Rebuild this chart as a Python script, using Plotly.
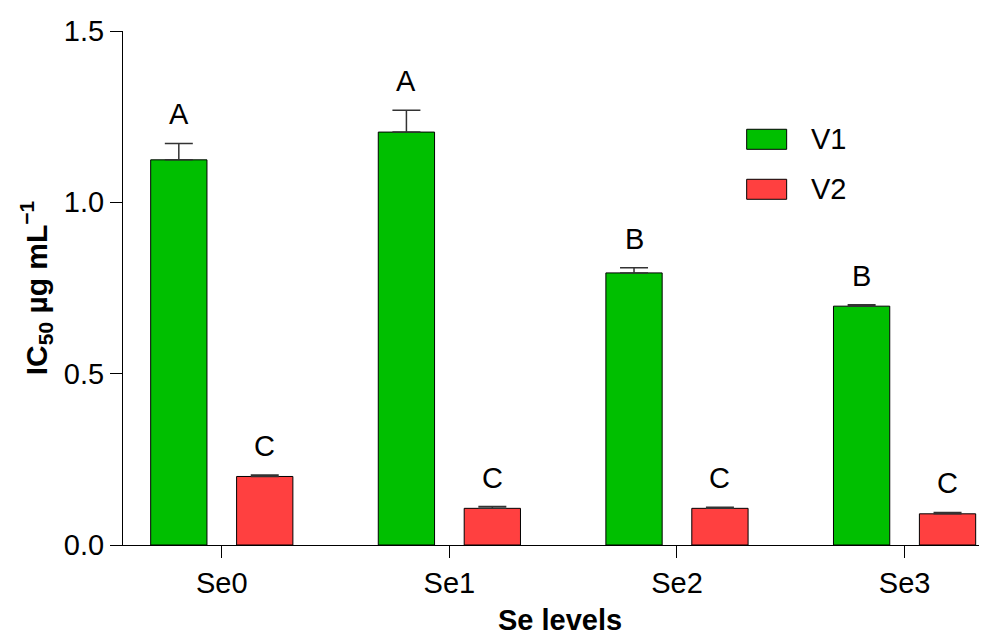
import plotly.graph_objects as go

categories = ["Se0", "Se1", "Se2", "Se3"]
v1_values = [1.124, 1.205, 0.794, 0.697]
v1_errors = [0.048, 0.064, 0.015, 0.004]
v2_values = [0.200, 0.107, 0.107, 0.091]
v2_errors = [0.004, 0.005, 0.003, 0.004]
v1_letters = ["A", "A", "B", "B"]
v2_letters = ["C", "C", "C", "C"]
series_names = ["V1", "V2"]

GREEN = "#00BF00"
RED = "#FF4040"
FONT = "Liberation Sans, Arial, sans-serif"
FS = 29

# page has an 8px body margin; the figure is sized to fit inside it
W, H = 971, 623
ML, MT, MR = 115, 23, 0
MB = 86
plot_w = W - ML - MR
PX_PER_CAT = 227.6
x_lo = -0.434
x_hi = x_lo + plot_w / PX_PER_CAT

fig = go.Figure()
for name, vals, errs, color in ((series_names[0], v1_values, v1_errors, GREEN),
                                (series_names[1], v2_values, v2_errors, RED)):
    fig.add_trace(go.Bar(
        x=categories, y=vals, name=name, showlegend=False,
        marker=dict(color=color, line=dict(color="black", width=1)),
        error_y=dict(type="data", array=errs, arrayminus=[0] * len(errs), symmetric=False,
                     color="#333333", thickness=1.5, width=14),
    ))

bargap = 0.245
bargroupgap = 0.345
slot = (1 - bargap) / 2
annotations = []
for i in range(len(categories)):
    for sign, vals, errs, letters in ((-1, v1_values, v1_errors, v1_letters),
                                      (1, v2_values, v2_errors, v2_letters)):
        annotations.append(dict(
            x=i + sign * slot / 2, y=vals[i] + errs[i], xref="x", yref="y",
            text=letters[i], showarrow=False, yanchor="bottom", yshift=11,
            font=dict(family=FONT, size=FS, color="black"),
        ))

# manual legend (bigger rectangular swatches like the reference)
shapes = []
leg_swatch_x = (0.7286, 0.7753)
leg_rows = [(0.7698, 0.8088), (0.6726, 0.7115)]
for (y0, y1), color, name in zip(leg_rows, (GREEN, RED), series_names):
    shapes.append(dict(type="rect", xref="x domain", yref="y domain",
                       x0=leg_swatch_x[0], x1=leg_swatch_x[1], y0=y0, y1=y1,
                       fillcolor=color, line=dict(color="black", width=1)))
    annotations.append(dict(xref="x domain", yref="y domain", x=0.8014, y=(y0 + y1) / 2,
                            xanchor="left", yanchor="middle", showarrow=False, text=name,
                            font=dict(family=FONT, size=FS, color="black")))

# x-axis title as an annotation so it can sit lower than the margin allows
annotations.append(dict(xref="x domain", yref="y domain", x=0.511, y=0,
                        xanchor="center", yanchor="middle", yshift=-75, showarrow=False,
                        text="<b>Se levels</b>",
                        font=dict(family=FONT, size=FS, color="black")))

fig.update_layout(
    width=W, height=H,
    margin=dict(l=ML, r=MR, t=MT, b=MB, autoexpand=False),
    plot_bgcolor="white", paper_bgcolor="white",
    barmode="group", bargap=bargap, bargroupgap=bargroupgap,
    font=dict(family=FONT, size=FS, color="black"),
    annotations=annotations, shapes=shapes, showlegend=False,
    xaxis=dict(
        type="category", range=[x_lo, x_hi],
        showline=True, linecolor="black", linewidth=1,
        ticks="outside", ticklen=12, tickcolor="black", tickwidth=1,
        tickfont=dict(family=FONT, size=FS),
        showgrid=False, zeroline=False, automargin=False,
    ),
    yaxis=dict(
        range=[0, 1.5], tickvals=[0, 0.5, 1.0, 1.5], tickformat=".1f",
        showline=True, linecolor="black", linewidth=1,
        ticks="outside", ticklen=12, tickcolor="black", tickwidth=1,
        tickfont=dict(family=FONT, size=FS),
        title=dict(text="<b>IC<sub>50</sub> µg mL<sup>−1</sup></b>",
                   font=dict(family=FONT, size=30), standoff=7),
        showgrid=False, zeroline=False, automargin=False,
    ),
)

fig.write_html("out.html")
